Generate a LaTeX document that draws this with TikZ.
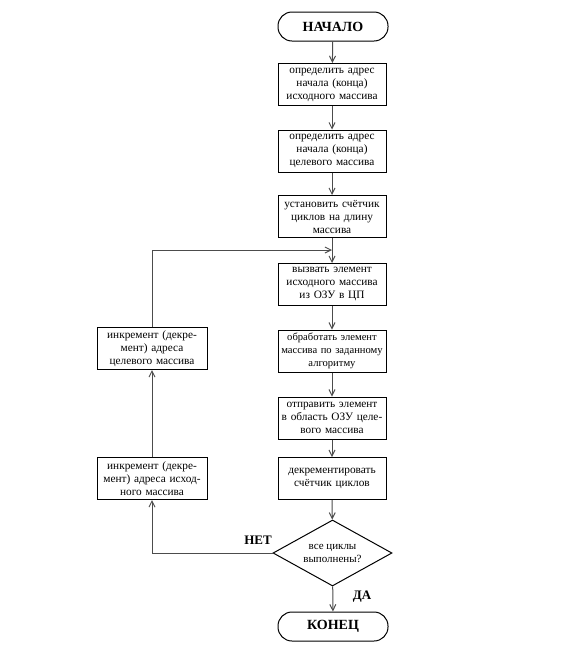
\documentclass[tikz,border=0pt]{standalone}
\usepackage{fontspec}
\setmainfont{Liberation Serif}
\usetikzlibrary{arrows.meta,shapes.geometric}
\begin{document}
\begin{tikzpicture}[x=1pt,y=-1pt,
  procbox/.style={draw=black, line width=1pt, minimum width=108pt, minimum height=42pt,
    inner sep=1pt, text width=104pt, align=center, font=\fontsize{11.3}{13}\selectfont},
  termbox/.style={draw=black, line width=1pt, rounded corners=14pt, minimum width=110pt,
    minimum height=29pt, font=\bfseries\fontsize{14}{15}\selectfont},
  conn/.style={draw=black!70, line width=1pt},
  arr/.style={conn, -{Straight Barb[length=6pt,width=6pt]}},
  lab/.style={font=\bfseries\fontsize{13}{14}\selectfont}]
\useasboundingbox (0,0) rectangle (584,646);
\node[termbox] (t1) at (333,26.5) {НАЧАЛО};
\node[procbox] (b1) at (332,84.5) {определить адрес\\начала (конца)\\исходного массива};
\node[procbox] (b2) at (332,151) {определить адрес\\начала (конца)\\целевого массива};
\node[procbox] (b3) at (332,216.5) {установить счётчик\\циклов на длину\\массива};
\node[procbox] (b4) at (332,284.5) {вызвать элемент\\исходного массива\\из ОЗУ в ЦП};
\node[procbox, font=\fontsize{10.6}{13}\selectfont] (b5) at (332,351) {обработать элемент\\массива по заданному\\алгоритму};
\node[procbox] (b6) at (332,418) {отправить элемент\\в область ОЗУ целе-\\вого массива};
\node[procbox] (b7) at (332,478.5) {декрементировать\\счётчик циклов};
\node[diamond, draw=black, line width=1pt, minimum width=119pt, minimum height=66pt, inner sep=0pt] (d) at (332.5,553) {};
\node[align=center, font=\fontsize{11}{13}\selectfont] (dt) at (d) {все циклы\\выполнены?};
\node[termbox] (t2) at (333,626.5) {КОНЕЦ};
\node[procbox, minimum width=110pt, text width=106pt] (l1) at (152,348.5) {инкремент (декре-\\мент) адреса\\целевого массива};
\node[procbox, minimum width=110pt, text width=106pt] (l2) at (152,478.5) {инкремент (декре-\\мент) адреса исход-\\ного массива};
\coordinate (j) at (332,250);
\node[lab] (net) at (258,540) {НЕТ};
\node[lab] (da) at (362,597) {ДА};
\draw[arr] (t1) -- (b1);
\draw[arr] (b1) -- (b2);
\draw[arr] (b2) -- (b3);
\draw[arr] (b3) -- (b4);
\draw[arr] (b4) -- (b5);
\draw[arr] (b5) -- (b6);
\draw[arr] (b6) -- (b7);
\draw[arr] (b7) -- (d);
\draw[arr] (d) -- (t2);
\draw[arr] (d.west) -| (l2.south);
\draw[arr] (l2) -- (l1);
\draw[arr] (l1.north) |- (j);
\end{tikzpicture}
\end{document}
